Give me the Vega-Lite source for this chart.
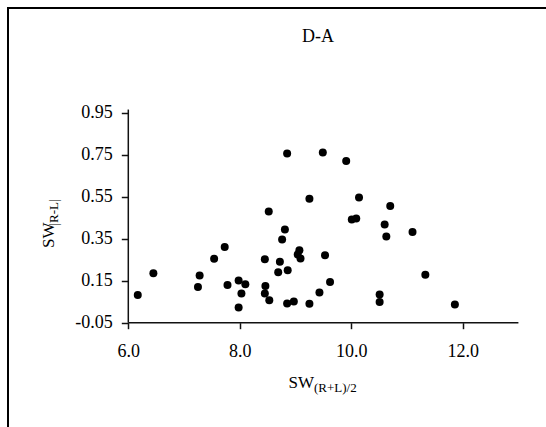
{
  "$schema": "https://vega.github.io/schema/vega-lite/v6.json",
  "width": 538,
  "height": 419,
  "autosize": {"type": "none"},
  "padding": {"left": 8, "top": 8, "right": 0, "bottom": 0},
  "background": "white",
  "title": {"text": "D-A", "anchor": "middle", "frame": "group", "offset": 0, "baseline": "alphabetic", "dx": 41, "dy": 51.5, "font": "Liberation Serif", "fontSize": 18, "fontWeight": "normal", "color": "#000"},
  "config": {
    "view": {"stroke": "#000", "strokeWidth": 2, "strokeDash": [538, 957, 419], "strokeCap": "square", "fill": "white"},
    "axis": {"grid": false, "domain": false, "labelFont": "Liberation Serif", "titleFont": "Liberation Serif", "labelColor": "#000", "titleColor": "#000", "titleFontWeight": "normal", "tickColor": "#111", "tickWidth": 1.5, "labelFontSize": 18, "titleFontSize": 17}
  },
  "layer": [
    {
      "data": {"values": [
        {"x": 6.17, "y": 0.082}, {"x": 6.45, "y": 0.186}, {"x": 7.25, "y": 0.12}, {"x": 7.28, "y": 0.175},
        {"x": 7.54, "y": 0.254}, {"x": 7.73, "y": 0.31}, {"x": 7.78, "y": 0.129}, {"x": 7.98, "y": 0.151},
        {"x": 8.10, "y": 0.133}, {"x": 8.03, "y": 0.089}, {"x": 7.98, "y": 0.022}, {"x": 8.45, "y": 0.252},
        {"x": 8.46, "y": 0.125}, {"x": 8.45, "y": 0.089}, {"x": 8.53, "y": 0.057}, {"x": 8.52, "y": 0.48},
        {"x": 8.69, "y": 0.19}, {"x": 8.72, "y": 0.24}, {"x": 8.76, "y": 0.346}, {"x": 8.81, "y": 0.394},
        {"x": 8.85, "y": 0.756}, {"x": 8.86, "y": 0.2}, {"x": 8.85, "y": 0.041}, {"x": 8.97, "y": 0.051},
        {"x": 9.49, "y": 0.76}, {"x": 9.91, "y": 0.72}, {"x": 9.25, "y": 0.54}, {"x": 10.14, "y": 0.546},
        {"x": 10.70, "y": 0.506}, {"x": 10.01, "y": 0.441}, {"x": 10.09, "y": 0.446}, {"x": 10.60, "y": 0.418},
        {"x": 10.63, "y": 0.36}, {"x": 11.10, "y": 0.382}, {"x": 9.07, "y": 0.295}, {"x": 9.04, "y": 0.275},
        {"x": 9.09, "y": 0.256}, {"x": 9.53, "y": 0.271}, {"x": 9.62, "y": 0.144}, {"x": 9.43, "y": 0.094},
        {"x": 11.33, "y": 0.178}, {"x": 10.51, "y": 0.084}, {"x": 10.51, "y": 0.048}, {"x": 11.86, "y": 0.037},
        {"x": 9.25, "y": 0.04}
      ]},
      "mark": {"type": "circle", "size": 64, "color": "#000", "opacity": 1},
      "encoding": {
        "x": {"field": "x", "type": "quantitative",
          "scale": {"domain": [3.8414, 13.4951], "nice": false, "zero": false},
          "axis": {"orient": "bottom", "offset": -104.3, "values": [6, 8, 10, 12], "format": ".1f", "tickSize": 6, "labelPadding": 28, "labelBaseline": "alphabetic",
            "title": "SW", "titleX": 280, "titleY": 65, "titleAlign": "left", "titleBaseline": "alphabetic", "titleAnchor": null}},
        "y": {"field": "y", "type": "quantitative",
          "scale": {"domain": [-0.54667, 1.44857], "nice": false, "zero": false},
          "axis": {"orient": "left", "offset": -120.3, "values": [-0.05, 0.15, 0.35, 0.55, 0.75, 0.95], "labelExpr": "replace(format(datum.value, '.2f'), '\u2212', '-')", "tickSize": 7, "labelPadding": 9,
            "title": "SW", "titleAngle": 270, "titleX": -75.3, "titleY": 239.4, "titleAlign": "left", "titleBaseline": "alphabetic"}}
      }
    },
    {
      "data": {"values": [{}]},
      "mark": {"type": "rule", "color": "#111", "strokeWidth": 1.5},
      "encoding": {
        "x": {"datum": 6, "type": "quantitative",
          "axis": {"orient": "bottom", "offset": -104.3, "labels": false, "ticks": false, "domain": false,
            "title": "(R+L)/2", "titleFontSize": 13, "titleX": 305.5, "titleY": 69, "titleAlign": "left", "titleBaseline": "alphabetic"}},
        "x2": {"datum": 13},
        "y": {"datum": -0.05, "type": "quantitative",
          "axis": {"orient": "left", "offset": -120.3, "labels": false, "ticks": false, "domain": false,
            "title": "|R-L|", "titleFontSize": 13, "titleAngle": 270, "titleX": -71.3, "titleY": 217, "titleAlign": "left", "titleBaseline": "alphabetic"}}
      }
    },
    {
      "data": {"values": [{}]},
      "mark": {"type": "rule", "color": "#111", "strokeWidth": 1.5},
      "encoding": {
        "x": {"datum": 6, "type": "quantitative", "axis": null},
        "y": {"datum": -0.05, "type": "quantitative", "axis": null},
        "y2": {"datum": 0.965}
      }
    }
  ],
  "resolve": {"axis": {"x": "independent", "y": "independent"}}
}
